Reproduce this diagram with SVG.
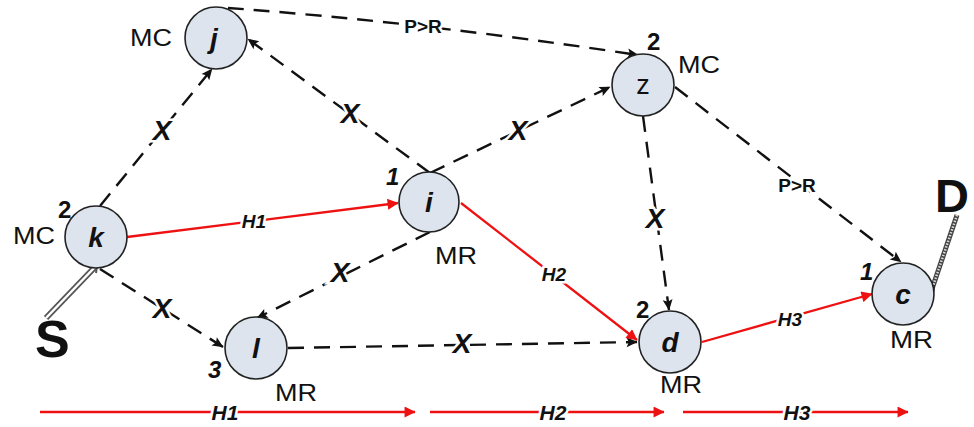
<svg xmlns="http://www.w3.org/2000/svg" width="974" height="427" viewBox="0 0 974 427">
<defs>
<marker id="ab" viewBox="0 0 10 10" refX="9.5" refY="5" markerWidth="13" markerHeight="11" markerUnits="userSpaceOnUse" orient="auto"><path d="M0,0.5 L10,5 L0,9.5 L2,5 z" fill="#111"/></marker>
<marker id="ar" viewBox="0 0 10 10" refX="9.5" refY="5" markerWidth="14" markerHeight="11" markerUnits="userSpaceOnUse" orient="auto"><path d="M0,0 L10,5 L0,10 z" fill="#ee1111"/></marker>
</defs>
<style>
.nd{fill:#dde4ee;stroke:#222;stroke-width:1.6}
.nl{font-family:"Liberation Sans",Arial,sans-serif;font-weight:bold;font-style:italic;font-size:28px;fill:#111;text-anchor:middle}
.lb{font-family:"Liberation Sans",Arial,sans-serif;font-size:24px;fill:#111}
.num{font-family:"Liberation Sans",Arial,sans-serif;font-size:24px;font-weight:bold;font-style:italic;fill:#111}
.dash{fill:none;stroke:#111;stroke-width:2.4;stroke-dasharray:16 10}
.red{fill:none;stroke:#ee1111;stroke-width:2.3}
.x{font-family:"Liberation Sans",Arial,sans-serif;font-size:28px;font-weight:bold;font-style:italic;fill:#111;text-anchor:middle;stroke:#fff;stroke-width:5px;paint-order:stroke}
.h{font-family:"Liberation Sans",Arial,sans-serif;font-size:19px;font-weight:bold;font-style:italic;fill:#111;text-anchor:middle;stroke:#fff;stroke-width:5px;paint-order:stroke}
.pr{font-family:"Liberation Sans",Arial,sans-serif;font-size:19px;font-weight:bold;fill:#111;text-anchor:middle;stroke:#fff;stroke-width:5px;paint-order:stroke}
.big{font-family:"Liberation Sans",Arial,sans-serif;font-weight:bold;fill:#111}
</style>
<rect width="974" height="427" fill="#fff"/>
<g id="connectors">
<path class="dash" d="M228,8 Q420,22 638,55" marker-end="url(#ab)"/>
<path class="dash" d="M100,206 L212,69" marker-end="url(#ab)"/>
<path class="dash" d="M430,173 L248,39" marker-end="url(#ab)"/>
<path class="dash" d="M430,173 L610,87" marker-end="url(#ab)"/>
<path class="dash" d="M430,232 L257,318" marker-end="url(#ab)"/>
<path class="dash" d="M100,269 L223,347" marker-end="url(#ab)"/>
<path class="dash" d="M288,348 L637,342" marker-end="url(#ab)"/>
<path class="dash" d="M643,116 L669,310" marker-end="url(#ab)"/>
<path class="dash" d="M675,87 L901,262" marker-end="url(#ab)"/>
<path class="red" d="M127,237 L398,203" marker-end="url(#ar)"/>
<path class="red" d="M461,203 L637,340" marker-end="url(#ar)"/>
<path class="red" d="M702,342 L872,294" marker-end="url(#ar)"/>
<line x1="46" y1="318" x2="95" y2="267" stroke="#555" stroke-width="6"/>
<line x1="46" y1="318" x2="95" y2="267" stroke="#fff" stroke-width="2.5"/>
<path d="M90,265 L97,266 L96,273" fill="none" stroke="#555" stroke-width="2"/>
<line x1="957" y1="215" x2="932" y2="289" stroke="#444" stroke-width="5"/>
<line x1="957" y1="215" x2="932" y2="289" stroke="#ddd" stroke-width="2.5" stroke-dasharray="1.5 1.5"/>
<rect x="929" y="286" width="5" height="5" fill="#fff" stroke="#222" stroke-width="1.2"/>
<text class="pr" x="423" y="33">P&gt;R</text>
<text class="x" x="162" y="140">X</text>
<text class="x" x="350" y="123">X</text>
<text class="x" x="518" y="140">X</text>
<text class="x" x="340" y="282">X</text>
<text class="x" x="162" y="318">X</text>
<text class="x" x="462" y="353">X</text>
<text class="x" x="655" y="228">X</text>
<text class="pr" x="797" y="192">P&gt;R</text>
<text class="h" x="254" y="228">H1</text>
<text class="h" x="554" y="281">H2</text>
<text class="h" x="790" y="326">H3</text>
<line x1="40" y1="412" x2="415" y2="412" class="red" marker-end="url(#ar)"/>
<line x1="430" y1="412" x2="664" y2="412" class="red" marker-end="url(#ar)"/>
<line x1="683" y1="412" x2="908" y2="412" class="red" marker-end="url(#ar)"/>
<text class="h" x="225" y="420" style="font-size:21px">H1</text>
<text class="h" x="553" y="420" style="font-size:21px">H2</text>
<text class="h" x="797" y="420" style="font-size:21px">H3</text>
</g>
<g id="node-j"><circle class="nd" cx="216" cy="38" r="31"/><text class="nl" x="214" y="48">j</text><text class="lb" x="130" y="46" textLength="42" lengthAdjust="spacingAndGlyphs">MC</text></g>
<g id="node-k"><circle class="nd" cx="96" cy="237" r="31"/><text class="nl" x="96" y="247">k</text><text class="lb" x="13" y="244" textLength="42" lengthAdjust="spacingAndGlyphs">MC</text><text class="num" x="58" y="218" style="font-style:normal">2</text></g>
<g id="node-i"><circle class="nd" cx="429" cy="202" r="30"/><text class="nl" x="429" y="212">i</text><text class="lb" x="435" y="264" textLength="42" lengthAdjust="spacingAndGlyphs">MR</text><text class="num" x="386" y="185">1</text></g>
<g id="node-l"><circle class="nd" cx="256" cy="348" r="31"/><text class="nl" x="256" y="358">l</text><text class="lb" x="275" y="401" textLength="42" lengthAdjust="spacingAndGlyphs">MR</text><text class="num" x="208" y="378">3</text></g>
<g id="node-z"><circle class="nd" cx="643" cy="85" r="31"/><text class="nl" x="643" y="94" style="font-style:normal;font-weight:normal;font-size:27px">z</text><text class="lb" x="678" y="73" textLength="42" lengthAdjust="spacingAndGlyphs">MC</text><text class="num" x="647" y="50" style="font-style:normal">2</text></g>
<g id="node-d"><circle class="nd" cx="670" cy="342" r="31"/><text class="nl" x="670" y="352">d</text><text class="lb" x="660" y="393" textLength="42" lengthAdjust="spacingAndGlyphs">MR</text><text class="num" x="636" y="318" style="font-style:normal">2</text></g>
<g id="node-c"><circle class="nd" cx="903" cy="294" r="31"/><text class="nl" x="903" y="304">c</text><text class="lb" x="890" y="348" textLength="43" lengthAdjust="spacingAndGlyphs">MR</text><text class="num" x="860" y="280">1</text></g>
<g id="node-S"><text class="big" x="35" y="357" style="font-size:52px">S</text></g>
<g id="node-D"><text class="big" x="935" y="212" style="font-size:47px">D</text></g>
</svg>
